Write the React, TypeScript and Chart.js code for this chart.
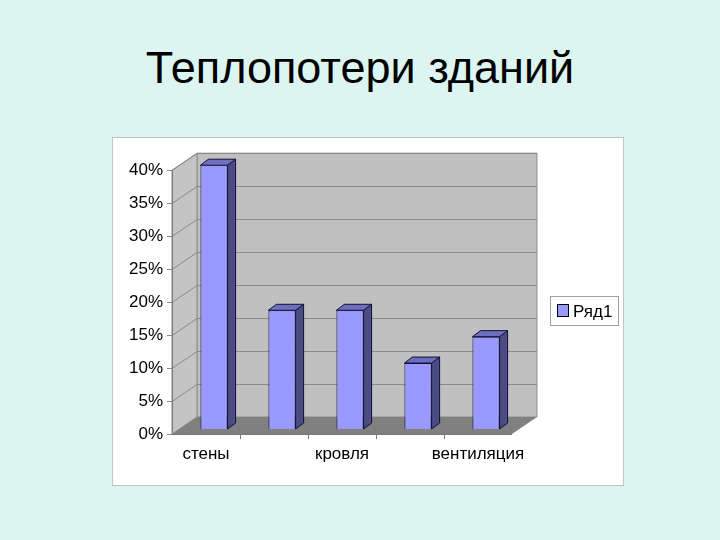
import React, { useEffect, useRef } from "react";
import { Chart, registerables } from "chart.js";

Chart.register(...registerables);

const categories = ["стены", "", "кровля", "", "вентиляция"];
const seriesName = "Ряд1";
const lossShare = [40, 18, 18, 10, 14];
const yTicks = [0, 5, 10, 15, 20, 25, 30, 35, 40];

const FONT = "'Liberation Sans', Arial, sans-serif";

// 3d look: front plane sits a bit left/below the bars, walls go back by DEPTH
const FRONT_DX = -8;
const FRONT_DY = 5;
const DEPTH_X = 25;
const DEPTH_Y = 17;
const BAR_DX = 8;
const BAR_DY = 6;

const poly = (ctx: CanvasRenderingContext2D, pts: number[][], fill: string, stroke?: string) => {
  ctx.beginPath();
  ctx.moveTo(pts[0][0], pts[0][1]);
  for (let i = 1; i < pts.length; i++) ctx.lineTo(pts[i][0], pts[i][1]);
  ctx.closePath();
  ctx.fillStyle = fill;
  ctx.fill();
  if (stroke) {
    ctx.strokeStyle = stroke;
    ctx.lineWidth = 1;
    ctx.stroke();
  }
};

const line = (ctx: CanvasRenderingContext2D, x0: number, y0: number, x1: number, y1: number) => {
  ctx.beginPath();
  ctx.moveTo(x0, y0);
  ctx.lineTo(x1, y1);
  ctx.stroke();
};

const frame3d = {
  id: "frame3d",
  beforeDatasetsDraw(chart: any) {
    const { ctx, chartArea: a, scales } = chart;
    const y = scales.y;
    const fl = a.left + FRONT_DX;
    const fr = a.right + FRONT_DX;
    const fb = a.bottom + FRONT_DY;
    const ft = a.top + FRONT_DY;
    ctx.save();
    // back wall
    poly(ctx, [[fl + DEPTH_X, ft - DEPTH_Y], [fr + DEPTH_X, ft - DEPTH_Y], [fr + DEPTH_X, fb - DEPTH_Y], [fl + DEPTH_X, fb - DEPTH_Y]], "#c0c0c0", "#8c8c8c");
    // left wall
    poly(ctx, [[fl, fb], [fl, ft], [fl + DEPTH_X, ft - DEPTH_Y], [fl + DEPTH_X, fb - DEPTH_Y]], "#c4c4c4", "#8c8c8c");
    // grid lines
    ctx.strokeStyle = "#8a8a8a";
    ctx.lineWidth = 1;
    yTicks.forEach((v) => {
      const py = Math.round(y.getPixelForValue(v) + FRONT_DY) + 0.5;
      if (v > yTicks[0]) {
        line(ctx, fl + DEPTH_X, py - DEPTH_Y, fr + DEPTH_X, py - DEPTH_Y);
        line(ctx, fl, py, fl + DEPTH_X, py - DEPTH_Y);
      }
      line(ctx, fl - 5, py, fl, py);
    });
    // floor
    poly(ctx, [[fl, fb], [fr, fb], [fr + DEPTH_X, fb - DEPTH_Y], [fl + DEPTH_X, fb - DEPTH_Y]], "#808080");
    // front axes
    ctx.strokeStyle = "#7a7a7a";
    line(ctx, fl + 0.5, ft, fl + 0.5, fb);
    line(ctx, fl, fb + 0.5, fr, fb + 0.5);
    const step = (fr - fl) / categories.length;
    for (let i = 1; i < categories.length; i++) {
      const px = Math.round(fl + step * i) + 0.5;
      line(ctx, px, fb, px, fb + 5);
    }
    ctx.restore();
  },
  afterDatasetsDraw(chart: any) {
    const { ctx } = chart;
    const meta = chart.getDatasetMeta(0);
    ctx.save();
    meta.data.forEach((el: any) => {
      const { x, y, base, width } = el.getProps(["x", "y", "base", "width"], true);
      const l = x - width / 2;
      const r = x + width / 2;
      poly(ctx, [[r, y], [r + BAR_DX, y - BAR_DY], [r + BAR_DX, base - BAR_DY], [r, base]], "#4c4c85", "#10103a");
      poly(ctx, [[l, y], [l + BAR_DX, y - BAR_DY], [r + BAR_DX, y - BAR_DY], [r, y]], "#6e6ebe", "#10103a");
    });
    // legend
    const lx = 437;
    const ly = 158;
    ctx.fillStyle = "#ffffff";
    ctx.fillRect(lx, ly, 69, 30);
    ctx.strokeStyle = "#a0a0a0";
    ctx.strokeRect(lx + 0.5, ly + 0.5, 68, 29);
    ctx.fillStyle = "#9999ff";
    ctx.fillRect(444.5, 166.5, 11, 12);
    ctx.strokeStyle = "#000000";
    ctx.strokeRect(444.5, 166.5, 11, 12);
    ctx.fillStyle = "#000000";
    ctx.font = `17px ${FONT}`;
    ctx.textBaseline = "alphabetic";
    ctx.fillText(chart.data.datasets[0].label, 460, 179);
    ctx.restore();
  },
};

const LossChart: React.FC = () => {
  const canvasRef = useRef<HTMLCanvasElement | null>(null);

  useEffect(() => {
    if (!canvasRef.current) return;
    const ctx = canvasRef.current.getContext("2d");
    if (!ctx) return;

    const chart = new Chart(ctx, {
      type: "bar",
      data: {
        labels: categories,
        datasets: [
          {
            label: seriesName,
            data: lossShare,
            backgroundColor: "#9999ff",
            borderColor: "#10103a",
            borderWidth: 1,
            barPercentage: 0.4,
            categoryPercentage: 1,
          },
        ],
      },
      options: {
        animation: false,
        responsive: false,
        layout: { padding: { left: 0, top: 26, right: 103, bottom: 0 } },
        scales: {
          x: {
            grid: { display: false, drawTicks: false },
            border: { display: false },
            ticks: {
              autoSkip: false,
              maxRotation: 0,
              padding: 15,
              labelOffset: FRONT_DX,
              color: "#000",
              font: { family: FONT, size: 17 },
            },
            afterFit: (scale: any) => {
              scale.height = 56;
            },
          },
          y: {
            min: yTicks[0],
            max: yTicks[yTicks.length - 1],
            grid: { display: false, drawTicks: false },
            border: { display: false },
            ticks: {
              stepSize: yTicks[1] - yTicks[0],
              padding: 17,
              labelOffset: FRONT_DY,
              color: "#000",
              font: { family: FONT, size: 17 },
              callback: (value) => value + "%",
            },
            afterFit: (scale: any) => {
              scale.width = 67;
            },
          },
        },
        plugins: {
          legend: { display: false },
          tooltip: { enabled: false },
        },
      },
      plugins: [frame3d],
    });

    return () => {
      chart.destroy();
    };
  }, []);

  return <canvas ref={canvasRef} width={510} height={347}></canvas>;
};

const App: React.FC = () => {
  return (
    <div
      style={{
        position: "fixed",
        left: 0,
        top: 0,
        width: 720,
        height: 540,
        background: "rgb(221, 245, 241)",
        fontFamily: FONT,
      }}
    >
      <div
        style={{
          position: "absolute",
          left: 0,
          top: 45,
          width: 720,
          textAlign: "center",
          fontSize: 45,
          lineHeight: "45px",
          color: "#000",
        }}
      >
        Теплопотери зданий
      </div>
      <div
        style={{
          position: "absolute",
          left: 112,
          top: 137,
          width: 512,
          height: 349,
          boxSizing: "border-box",
          border: "1px solid #c4c4c4",
          background: "#ffffff",
        }}
      >
        <LossChart />
      </div>
    </div>
  );
};

export default App;
